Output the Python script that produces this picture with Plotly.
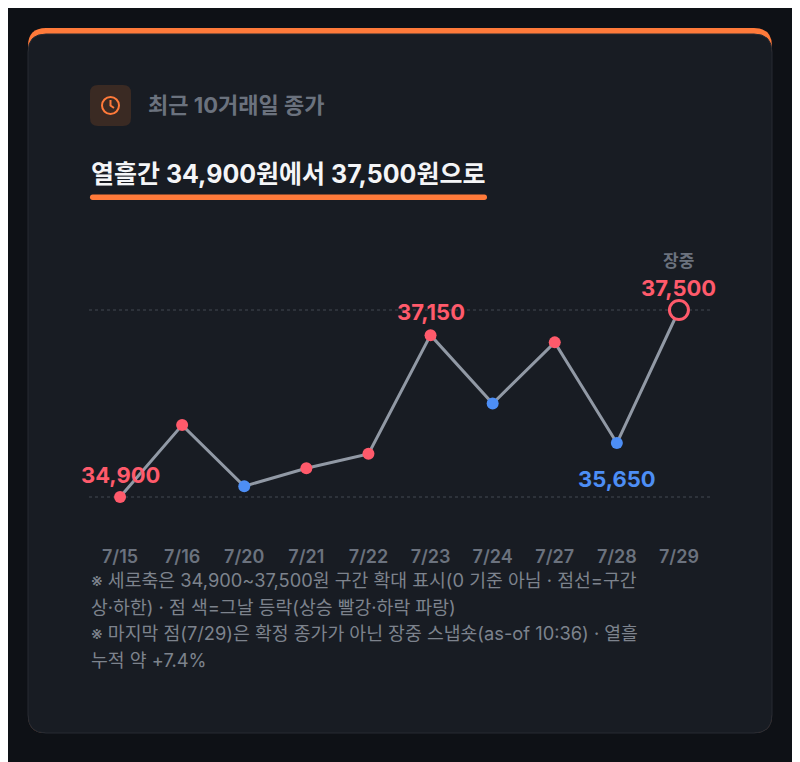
import plotly.graph_objects as go

# the page puts the plot 8px in from the window corner
OFF = 8
W, H = 800 - OFF, 762 - OFF

# data
dates = ["7/15", "7/16", "7/20", "7/21", "7/22", "7/23", "7/24", "7/27", "7/28", "7/29"]
closes = [34900, 35900, 35050, 35300, 35500, 37150, 36200, 37050, 35650, 37500]
band_low = 34900
band_high = 37500

RED = "#ff5a6b"
BLUE = "#4d8ef5"
FONT = "Inter, Noto Sans CJK KR"

# up day red, down day blue (first day red)
colors = [RED]
for i in range(1, len(closes)):
    colors.append(RED if closes[i] >= closes[i - 1] else BLUE)


def px(x):
    return (x - OFF) / W


def py(y):
    return 1 - (y - OFF) / H


def rounded_rect(x0, y0, x1, y1, r):
    # path in paper coords, corners with quadratic curves
    pts = [
        f"M {px(x0 + r)} {py(y0)}",
        f"L {px(x1 - r)} {py(y0)}",
        f"Q {px(x1)} {py(y0)} {px(x1)} {py(y0 + r)}",
        f"L {px(x1)} {py(y1 - r)}",
        f"Q {px(x1)} {py(y1)} {px(x1 - r)} {py(y1)}",
        f"L {px(x0 + r)} {py(y1)}",
        f"Q {px(x0)} {py(y1)} {px(x0)} {py(y1 - r)}",
        f"L {px(x0)} {py(y0 + r)}",
        f"Q {px(x0)} {py(y0)} {px(x0 + r)} {py(y0)}",
        "Z",
    ]
    return " ".join(pts)


fig = go.Figure()

# main line
fig.add_trace(go.Scatter(
    x=list(range(len(dates))), y=closes, mode="lines",
    line=dict(color="#9199a5", width=3), hoverinfo="skip", showlegend=False,
))
# closed days
fig.add_trace(go.Scatter(
    x=list(range(len(dates) - 1)), y=closes[:-1], mode="markers",
    marker=dict(color=colors[:-1], size=12, line=dict(width=0)),
    showlegend=False,
))
# intraday snapshot (hollow ring)
fig.add_trace(go.Scatter(
    x=[len(dates) - 1], y=[closes[-1]], mode="markers",
    marker=dict(color="#181c23", size=19, line=dict(color=colors[-1], width=3)),
    showlegend=False,
))

shapes = []
# card
shapes.append(dict(type="path", xref="paper", yref="paper", layer="below",
                   path=rounded_rect(28, 28, 772, 733, 18),
                   fillcolor="#ff7a3a", line=dict(width=0)))
shapes.append(dict(type="path", xref="paper", yref="paper", layer="below",
                   path=rounded_rect(28, 34, 772, 733, 18),
                   fillcolor="#181c23", line=dict(color="#262b33", width=1)))
# icon box
shapes.append(dict(type="path", xref="paper", yref="paper", layer="below",
                   path=rounded_rect(90, 85, 131, 126, 8),
                   fillcolor="#3a2a23", line=dict(width=0)))
shapes.append(dict(type="circle", xref="paper", yref="paper",
                   x0=px(102), x1=px(119), y0=py(97), y1=py(114),
                   line=dict(color="#ff7a3a", width=2)))
shapes.append(dict(type="path", xref="paper", yref="paper",
                   path=f"M {px(110.5)} {py(100)} L {px(110.5)} {py(105.5)} L {px(114)} {py(108)}",
                   line=dict(color="#ff7a3a", width=2)))
# headline underline
shapes.append(dict(type="path", xref="paper", yref="paper",
                   path=rounded_rect(90, 194.5, 487, 200, 2.7),
                   fillcolor="#ff7a3a", line=dict(width=0)))
# dotted band lines
for v in [band_low, band_high]:
    shapes.append(dict(type="line", xref="x", yref="y", layer="below",
                       x0=-0.5, x1=len(dates) - 0.5, y0=v, y1=v,
                       line=dict(color="#343a43", width=1.5, dash="dot")))

annotations = [
    dict(text="최근 10거래일 종가", x=px(146), y=py(105), xref="paper", yref="paper",
         xanchor="left", yanchor="middle", showarrow=False,
         font=dict(family=FONT, size=22, color="#6b727e", weight="bold")),
    dict(text="열흘간 34,900원에서 37,500원으로", x=px(89), y=py(174), xref="paper", yref="paper",
         xanchor="left", yanchor="middle", showarrow=False,
         font=dict(family=FONT, size=25, color="#f4f5f7", weight="bold")),
]

label_font = dict(family=FONT, size=22, weight="bold")
annotations += [
    dict(text=f"{closes[0]:,}", x=0, y=closes[0], yshift=22, showarrow=False,
         font=dict(color=colors[0], **label_font)),
    dict(text=f"{closes[5]:,}", x=5, y=closes[5], yshift=23, showarrow=False,
         font=dict(color=colors[5], **label_font)),
    dict(text=f"{closes[8]:,}", x=8, y=closes[8], yshift=-36, showarrow=False,
         font=dict(color=colors[8], **label_font)),
    dict(text=f"{closes[9]:,}", x=9, y=closes[9], yshift=22, showarrow=False,
         font=dict(color=colors[9], **label_font)),
    dict(text="장중", x=9, y=closes[9], yshift=49, showarrow=False,
         font=dict(family=FONT, size=17, color="#6b727e", weight="bold")),
]

notes = [
    "※ 세로축은 34,900~37,500원 구간 확대 표시(0 기준 아님 · 점선=구간",
    "상·하한) · 점 색=그날 등락(상승 빨강·하락 파랑)",
    "※ 마지막 점(7/29)은 확정 종가가 아닌 장중 스냅숏(as-of 10:36) · 열흘",
    "누적 약 +7.4%",
]
for i, line in enumerate(notes):
    annotations.append(dict(text=line, x=px(89), y=py(580 + i * 26.7), xref="paper", yref="paper",
                            xanchor="left", yanchor="middle", showarrow=False,
                            font=dict(family=FONT, size=18.3, color="#7d838d")))

# plot area geometry (pixels)
top_px, bot_px = 230, 530
y_hi_px, y_lo_px = 310, 497
per_px = (band_high - band_low) / (y_lo_px - y_hi_px)
y_range = [band_low - (bot_px - y_lo_px) * per_px, band_high + (y_hi_px - top_px) * per_px]

fig.update_layout(
    width=W, height=H,
    margin=dict(l=0, r=0, t=0, b=0),
    paper_bgcolor="#0e1116",
    plot_bgcolor="rgba(0,0,0,0)",
    shapes=shapes,
    annotations=annotations,
    xaxis=dict(
        domain=[px(89), px(710)], range=[-0.5, len(dates) - 0.5],
        tickmode="array", tickvals=list(range(len(dates))), ticktext=dates,
        ticks="outside", ticklen=10, tickcolor="rgba(0,0,0,0)",
        showgrid=False, zeroline=False, showline=False, fixedrange=True,
        tickfont=dict(family=FONT, size=18, color="#6b727e", weight=600),
    ),
    yaxis=dict(
        domain=[py(bot_px), py(top_px)], range=y_range,
        visible=False, showgrid=False, zeroline=False, fixedrange=True,
    ),
    hovermode=False,
)

fig.write_html("out.html", config={"displayModeBar": False})
